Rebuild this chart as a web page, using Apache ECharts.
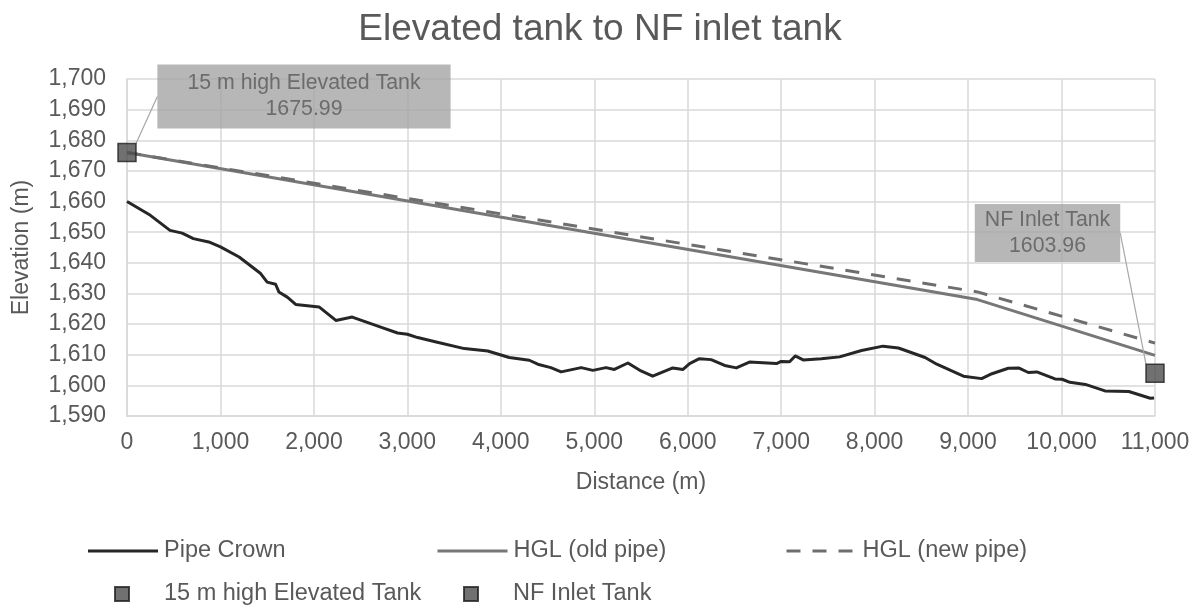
<!DOCTYPE html>
<html>
<head>
<meta charset="utf-8">
<title>Elevated tank to NF inlet tank</title>
<script src="https://cdn.jsdelivr.net/npm/echarts@6/dist/echarts.min.js"></script>
<style>
  html, body { margin: 0; padding: 0; background: #ffffff; }
  #chart { width: 1200px; height: 608px; }
</style>
</head>
<body>
<div id="chart"></div>
<script>
// Long profile: pipe crown elevation along the main, distance (m) / elevation (m)
const pipeCrown = [
  [0, 1660.0], [250, 1655.5], [460, 1650.6], [590, 1649.7], [710, 1647.9],
  [875, 1646.8], [1000, 1645.2], [1200, 1641.9], [1430, 1636.5], [1500, 1633.7],
  [1590, 1633.0], [1625, 1630.5], [1715, 1628.8], [1805, 1626.4], [2055, 1625.6],
  [2235, 1621.2], [2410, 1622.3], [2715, 1619.0], [2895, 1617.1], [3000, 1616.7],
  [3110, 1615.6], [3320, 1614.1], [3610, 1612.0], [3860, 1611.2], [4090, 1609.1],
  [4305, 1608.2], [4395, 1606.9], [4535, 1605.8], [4645, 1604.4], [4860, 1605.8],
  [4985, 1604.9], [5125, 1605.8], [5215, 1605.2], [5360, 1607.3], [5500, 1604.7],
  [5625, 1603.0], [5840, 1605.7], [5950, 1605.2], [6020, 1607.1], [6125, 1608.7],
  [6250, 1608.4], [6395, 1606.5], [6520, 1605.7], [6660, 1607.6], [6950, 1607.1],
  [7000, 1607.8], [7090, 1607.7], [7150, 1609.6], [7235, 1608.3], [7430, 1608.7],
  [7625, 1609.3], [7860, 1611.4], [8090, 1612.8], [8255, 1612.2], [8540, 1609.1],
  [8665, 1606.9], [8950, 1603.0], [9145, 1602.2], [9255, 1603.8], [9430, 1605.6],
  [9540, 1605.7], [9645, 1604.2], [9735, 1604.4], [9930, 1602.1], [10005, 1602.0],
  [10090, 1601.0], [10255, 1600.3], [10465, 1598.2], [10720, 1598.0], [10950, 1595.8],
  [10990, 1595.9]
];

// Hydraulic grade lines
const hglOldPipe = [[0, 1675.99], [9100, 1628.0], [11000, 1609.8]];
const hglNewPipe = [[0, 1675.99], [9100, 1630.5], [11000, 1613.8]];

// Tanks at both ends of the main
const elevatedTank = [[0, 1675.99]];
const nfInletTank = [[11000, 1603.96]];

// Axis settings
const xTicks = { min: 0, max: 11000, step: 1000 };
const yTicks = { min: 1590, max: 1700, step: 10 };

const FONT = '"Liberation Sans", Arial, Helvetica, sans-serif';
const TEXT = '#595959';
const GRID = '#d9d9d9';

const fmt = v => Number(v).toLocaleString('en-US');

// Callout boxes: centre of the box in pixels, and which side the leader leaves from
function callout(cx, cy, side) {
  return function (params) {
    const r = params.rect;
    const ax = r.x + r.width / 2;
    const ay = r.y + r.height / 2;
    const lr = params.labelRect;
    const edge = side === 'left' ? cx - lr.width / 2 : cx + lr.width / 2;
    const elbow = side === 'left' ? edge - 10.5 : edge + 10;
    return {
      x: cx, y: cy, align: 'center', verticalAlign: 'middle',
      labelLinePoints: [[ax, ay], [elbow, cy], [edge, cy]]
    };
  };
}

function tankSeries(name, data, box) {
  return {
    name: name,
    type: 'scatter',
    data: data,
    symbol: 'rect',
    symbolSize: 18,
    clip: false,
    z: 5,
    itemStyle: { color: '#4d4d4d', borderColor: '#1f1f1f', borderWidth: 1.5 },
    label: {
      show: true,
      formatter: p => p.seriesName + '\n' + p.value[1].toFixed(2),
      color: TEXT,
      fontFamily: FONT,
      fontSize: 21.3,
      lineHeight: 26,
      align: 'center',
      backgroundColor: '#a5a5a5',
      padding: box.padding
    },
    labelLine: { show: true, lineStyle: { color: '#a6a6a6', width: 1.2 } },
    labelLayout: callout(box.cx, box.cy, box.side),
    emphasis: { disabled: true }
  };
}

const LEGEND_FONT = 23.5;
const lineLegend = {
  itemWidth: 70, itemHeight: 14,
  itemStyle: { opacity: 0 },
  lineStyle: { width: 3 },
  textStyle: { color: TEXT, fontFamily: FONT, fontSize: LEGEND_FONT, padding: [0, 0, 0, 1] },
  selectedMode: false
};
const squareLegend = {
  itemWidth: 14, itemHeight: 14,
  textStyle: { color: TEXT, fontFamily: FONT, fontSize: LEGEND_FONT, padding: [0, 0, 0, 30] },
  selectedMode: false
};

const chart = echarts.init(document.getElementById('chart'), null, { renderer: 'canvas' });

chart.setOption({
  animation: false,
  backgroundColor: '#ffffff',
  title: {
    text: 'Elevated tank to NF inlet tank',
    left: 'center', top: 6,
    textStyle: { color: TEXT, fontFamily: FONT, fontSize: 37, fontWeight: 'normal' }
  },
  grid: { left: 127, right: 45, top: 79, bottom: 192 },
  legend: [
    Object.assign({ data: ['Pipe Crown'], left: 81.5, top: 534 }, lineLegend),
    Object.assign({ data: ['HGL (old pipe)'], left: 431, top: 534 }, lineLegend),
    Object.assign({ data: ['HGL (new pipe)'], left: 780, top: 534 }, lineLegend),
    Object.assign({ data: ['15 m high Elevated Tank'], left: 109, top: 577 }, squareLegend),
    Object.assign({ data: ['NF Inlet Tank'], left: 458, top: 577 }, squareLegend)
  ],
  xAxis: {
    type: 'value',
    min: xTicks.min, max: xTicks.max, interval: xTicks.step,
    name: 'Distance (m)', nameLocation: 'middle', nameGap: 55,
    nameTextStyle: { color: TEXT, fontFamily: FONT, fontSize: 23 },
    axisLine: { show: true, lineStyle: { color: GRID, width: 1.5 } },
    axisTick: { show: false },
    axisLabel: { color: TEXT, fontFamily: FONT, fontSize: 23, margin: 15, formatter: fmt },
    splitLine: { show: true, lineStyle: { color: GRID, width: 1.5 } }
  },
  yAxis: {
    type: 'value',
    min: yTicks.min, max: yTicks.max, interval: yTicks.step,
    name: 'Elevation (m)', nameLocation: 'middle', nameGap: 94, nameRotate: 90,
    nameTextStyle: { color: TEXT, fontFamily: FONT, fontSize: 23 },
    axisLine: { show: true, lineStyle: { color: GRID, width: 1.5 } },
    axisTick: { show: false },
    axisLabel: { color: TEXT, fontFamily: FONT, fontSize: 23, margin: 21, formatter: fmt },
    splitLine: { show: true, lineStyle: { color: GRID, width: 1.5 } }
  },
  series: [
    {
      name: 'Pipe Crown', type: 'line', data: pipeCrown,
      symbol: 'none', z: 3,
      lineStyle: { color: '#262626', width: 3, join: 'round' },
      itemStyle: { color: '#262626' }
    },
    {
      name: 'HGL (old pipe)', type: 'line', data: hglOldPipe,
      symbol: 'none', z: 2,
      lineStyle: { color: '#777777', width: 3 },
      itemStyle: { color: '#777777' }
    },
    {
      name: 'HGL (new pipe)', type: 'line', data: hglNewPipe,
      symbol: 'none', z: 2,
      lineStyle: { color: '#6e6e6e', width: 3, type: [14, 12] },
      itemStyle: { color: '#6e6e6e' }
    },
    tankSeries('15 m high Elevated Tank', elevatedTank,
      { cx: 304, cy: 96.5, side: 'left', padding: [6, 30, 6, 30] }),
    tankSeries('NF Inlet Tank', nfInletTank,
      { cx: 1047.5, cy: 233, side: 'right', padding: [3, 10, 3, 10] })
  ]
});
</script>
</body>
</html>
